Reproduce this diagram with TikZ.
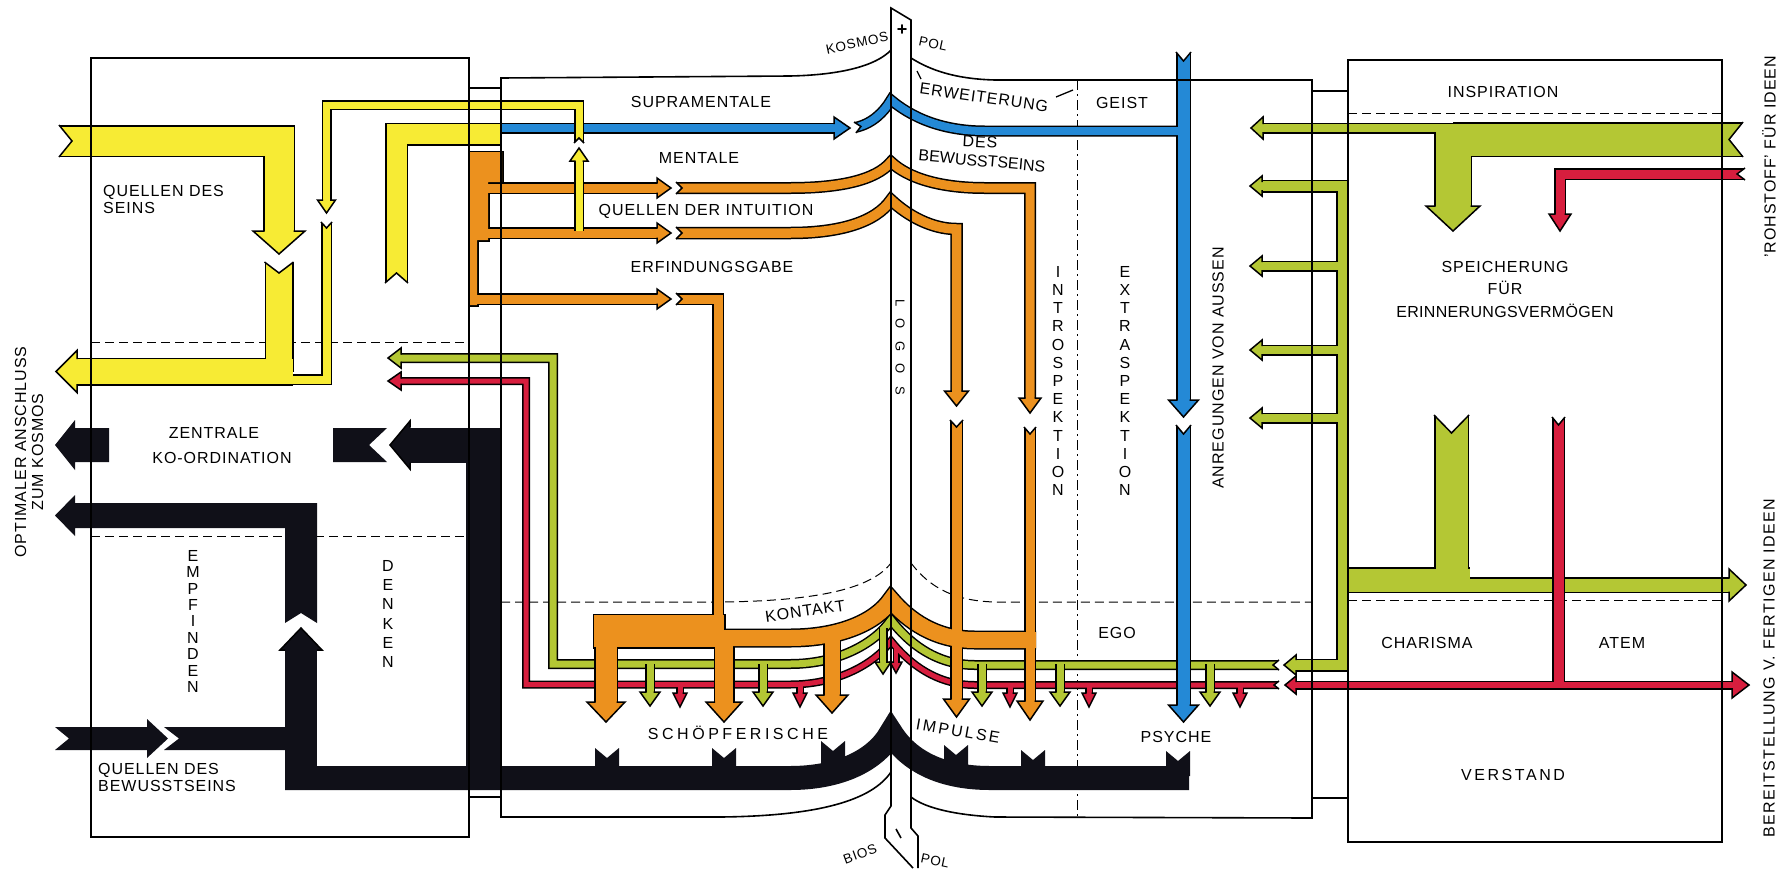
\documentclass[tikz,border=0pt]{standalone}
\usepackage{fontspec}
\setmainfont{Liberation Sans}[LetterSpace=6]

\definecolor{yel}{RGB}{247,235,52}
\definecolor{org}{RGB}{236,145,30}
\definecolor{blu}{RGB}{36,137,214}
\definecolor{grn}{RGB}{180,199,52}
\definecolor{rd}{RGB}{215,30,62}
\definecolor{ink}{RGB}{16,16,24}

% two passes per colour: black rim first, colour core after
\newcommand\rimmode{\tikzset{pipe/.style={draw=black,line width=##1+3pt,line cap=butt,line join=miter},
  blob/.style={draw=black,line width=3pt,line join=miter}}}
\newcommand\coremode[1]{\tikzset{pipe/.style={draw=#1,line width=##1,line cap=butt,line join=miter},
  blob/.style={fill=#1}}}
% notched tail: x, y, flow angle, half width, depth
\newcommand\notch[5]{\begin{scope}[shift={(#1,#2)},rotate=#3]
  \fill[white] (-1,-#4) -- (0,-#4) -- (#5,0) -- (0,#4) -- (-1,#4) -- cycle;
  \draw[line width=1.5pt,line join=miter] (0,-#4) -- (#5,0) -- (0,#4);
\end{scope}}
% arrow head: tip x, tip y, angle, half width, length, half pipe, colour
\newcommand\head[7]{\begin{scope}[shift={(#1,#2)},rotate=#3]
  \fill[#7] (0,0) -- (-#5,#4) -- (-#5,-#4) -- cycle;
  \draw[line width=1.5pt,line join=miter] (-#5,#6) -- (-#5,#4) -- (0,0) -- (-#5,-#4) -- (-#5,-#6);
\end{scope}}
\newcommand\track[1]{\addfontfeature{LetterSpace=#1}}

\newcommand\yellowparts{%
  \draw[pipe=29pt] (59,141) -- (279,141) -- (279,232);
  \draw[pipe=26pt] (279,262) -- (279,372);
  \draw[pipe=25pt] (293,371.5) -- (76,371.5);
  \draw[pipe=8pt] (326.5,222) -- (326.5,379.5) -- (293,379.5);
  \draw[pipe=20pt] (396.5,283) -- (396.5,134) -- (502,134);
}
\newcommand\yellowthin{%
  \draw[pipe=7pt] (579,231) -- (579,160);
  \draw[pipe=7pt] (579,143) -- (579,105) -- (326.5,105) -- (326.5,201);
}
\newcommand\blueparts{%
  \draw[pipe=8pt] (501,128) -- (835,128);
  \draw[pipe=8pt] (855,127.5) .. controls (872,124) and (884,112) .. (891,100)
    .. controls (910,116) and (940,131) .. (985,131) -- (1183.5,131);
  \draw[pipe=12pt] (1183.5,52) -- (1183.5,401);
  \draw[pipe=12pt] (1183.5,425) -- (1183.5,706);
}
\newcommand\orangeparts{%
  \path[blob] (469,152) -- (502,152) -- (502,182) -- (488,182) -- (488,240) -- (477,240) -- (477,305) -- (469,305) -- cycle;
  \draw[pipe=9pt] (485,188) -- (658,188);
  \draw[pipe=9pt] (484,233) -- (658,233);
  \draw[pipe=9pt] (473,299) -- (658,299);
  \draw[pipe=9pt] (676,188) -- (790,188) .. controls (840,188) and (876,180) .. (891,162)
    .. controls (908,178) and (940,188) .. (985,188) -- (1030,188) -- (1030,399);
  \draw[pipe=9.5pt] (676,233) -- (790,233) .. controls (840,233) and (876,222) .. (891,200)
    .. controls (908,216) and (932,229) .. (956.5,229) -- (956.5,392);
  \draw[pipe=9pt] (676,299) -- (718,299) -- (718,630);
  \path[blob] (594,615) rectangle (724,647);
  \draw[pipe=16pt] (718,638) -- (790,638) .. controls (840,638) and (876,622) .. (891,600)
    .. controls (908,620) and (935,640) .. (975,640) -- (1036,640);
  \draw[pipe=21pt] (606,640) -- (606,703);
  \draw[pipe=18pt] (724,640) -- (724,703);
  \draw[pipe=15pt] (832,628) -- (832,696);
  \draw[pipe=10pt] (956.5,420) -- (956.5,700);
  \draw[pipe=9pt] (1030,427) -- (1030,702);
}
\newcommand\greenparts{%
  \draw[pipe=7pt] (400,358) -- (553,358) -- (553,664) -- (790,664) .. controls (840,664) and (876,642) .. (891,620)
    .. controls (908,642) and (935,665) .. (975,665) -- (1279,665);
  \draw[pipe=10pt] (1295,665) -- (1342.5,665) -- (1342.5,186) -- (1261,186);
  \foreach \y in {266,350,418} \draw[pipe=8pt] (1342,\y) -- (1261,\y);
  \draw[pipe=23pt] (1342,580) -- (1470,580);
  \draw[pipe=13pt] (1452,585) -- (1730,585);
  \draw[pipe=32pt] (1451.5,415) -- (1451.5,580);
  \draw[pipe=32pt] (1743,139.5) -- (1453,139.5);
  \draw[pipe=8pt] (1453,128) -- (1262,128);
  \draw[pipe=35pt] (1453,128) -- (1453,207);
}
\newcommand\greentwigs{%
  \foreach \x in {650,763,982,1060,1210} \draw[pipe=7pt] (\x,664) -- (\x,693);
  \draw[pipe=6pt] (883,628) -- (883,663);
}
\newcommand\redparts{%
  \draw[pipe=5pt] (400,381) -- (526,381) -- (526,684.5) -- (790,684.5) .. controls (840,684.5) and (876,662) .. (891,641)
    .. controls (908,662) and (935,685) .. (975,685) -- (1279,685);
  \draw[pipe=6pt] (1296,685) -- (1733,685);
  \draw[pipe=10pt] (1558.5,417) -- (1558.5,685);
  \draw[pipe=9pt] (1745,174) -- (1560,174) -- (1560,215);
  \foreach \x in {680,800,1010,1089,1240} \draw[pipe=5pt] (\x,685) -- (\x,694);
  \draw[pipe=4pt] (896,646) -- (896,662);
}

\begin{document}
\begin{tikzpicture}[x=1pt, y=-1pt,
  wall/.style={line width=1.6pt, line join=miter},
  cutline/.style={line width=1pt, dash pattern=on 9pt off 5pt},
  lbl/.style={inner sep=0pt, font=\fontsize{16}{17}\selectfont},
  tab/.style={inner sep=0pt, font=\fontsize{13.5}{14}\selectfont},
  stack/.style={inner sep=0pt, anchor=north, align=center, font=\fontsize{16}{18.2}\selectfont}]

\useasboundingbox (0,0) rectangle (1787,876);
\fill[white] (0,0) rectangle (1787,876);

% dashed divisions
\draw[cutline] (91,342) -- (469,342);
\draw[cutline] (91,536) -- (469,536);
\draw[cutline] (1348,113) -- (1722,113);
\draw[cutline] (1348,600) -- (1722,600);
\draw[cutline] (501,602) -- (720,602) .. controls (820,601) and (872,588) .. (891,563);
\draw[cutline] (911,563) .. controls (930,588) and (955,601) .. (995,602) -- (1312,602);
\draw[line width=1pt, dash pattern=on 10pt off 4pt on 2pt off 4pt] (1077,80) -- (1077,818);

% yellow
\begin{scope}\rimmode\yellowparts\end{scope}
\begin{scope}\coremode{yel}\yellowparts\end{scope}
\notch{59}{141}{0}{16}{13}
\notch{279}{262}{-90}{14.5}{11}
\notch{326.5}{222}{-90}{5.5}{6}
\notch{396.5}{283}{90}{11.5}{10}
\head{279}{254}{-90}{26}{23}{14.5}{yel}
\head{56}{371.5}{180}{21}{21}{12.5}{yel}

% green
\begin{scope}\rimmode\greenparts\end{scope}
\begin{scope}\coremode{grn}\greenparts\end{scope}
\notch{1279}{665}{180}{5}{6}
\notch{1743}{139.5}{180}{17.5}{14}
\notch{1451.5}{415}{-90}{17.5}{18}
\head{388}{358}{180}{10}{13}{3.5}{grn}
\head{1284}{665}{180}{10}{12}{5}{grn}
\foreach \y in {186,266,350,418} \head{1250}{\y}{180}{10}{12}{4}{grn};
\head{1251}{128}{180}{11}{12}{4}{grn}
\head{1746}{585}{0}{16}{17}{6.5}{grn}
\head{1453}{231}{-90}{27}{25}{17.5}{grn}

% red
\begin{scope}\rimmode\redparts\end{scope}
\begin{scope}\coremode{rd}\redparts\end{scope}
\notch{1279}{685}{180}{4}{5}
\notch{1745}{174}{180}{6}{8}
\notch{1558.5}{417}{-90}{6.5}{8}
\head{388}{381}{180}{9}{13}{2.5}{rd}
\head{1285}{685}{180}{9}{11}{3}{rd}
\head{1749}{685}{0}{13}{17}{3}{rd}
\head{1560}{231}{-90}{11}{17}{4.5}{rd}
\foreach \x in {680,800,1010,1089,1240} \head{\x}{707}{-90}{7}{14}{2.5}{rd};
\head{896}{673}{-90}{6}{11}{2}{rd}

% green branches over red
\begin{scope}\rimmode\greentwigs\end{scope}
\begin{scope}\coremode{grn}\greentwigs\end{scope}
\foreach \x in {650,763,982,1060,1210} \head{\x}{706}{-90}{10}{14}{3.5}{grn};
\head{883}{674}{-90}{8}{12}{3}{grn}

% orange
\begin{scope}\rimmode\orangeparts\end{scope}
\begin{scope}\coremode{org}\orangeparts\end{scope}
\foreach \y in {188,233,299} \notch{676}{\y}{0}{6}{6};
\notch{956.5}{420}{-90}{6.5}{7}
\notch{1030}{427}{-90}{6}{7}
\foreach \y in {188,233,299} \head{671}{\y}{0}{10}{14}{4.5}{org};
\head{1030}{413}{-90}{11}{15}{4.5}{org}
\head{956.5}{406}{-90}{12}{15}{4.75}{org}
\head{606}{722}{-90}{19}{20}{10.5}{org}
\head{724}{722}{-90}{18}{20}{9}{org}
\head{832}{713}{-90}{16}{18}{7.5}{org}
\head{956.5}{717}{-90}{13}{18}{5}{org}
\head{1030}{720}{-90}{13}{19}{4.5}{org}

% blue
\begin{scope}\rimmode\blueparts\end{scope}
\begin{scope}\coremode{blu}\blueparts\end{scope}
\notch{855}{127.5}{10}{5.5}{6}
\notch{1183.5}{52}{-90}{7.5}{9}
\notch{1183.5}{425}{-90}{7.5}{9}
\head{850}{128}{0}{11}{16}{4}{blu}
\head{1183.5}{417}{-90}{15}{17}{6}{blu}
\head{1183.5}{722}{-90}{15}{17}{6}{blu}

% thin yellow over orange and blue
\begin{scope}\rimmode\yellowthin\end{scope}
\begin{scope}\coremode{yel}\yellowthin\end{scope}
\notch{579}{143}{90}{5}{5}
\head{579}{148}{90}{9}{13}{3.5}{yel}
\head{326.5}{213}{-90}{9}{13}{3.5}{yel}

% black
\draw[ink, line width=35pt, line join=miter] (483,790) -- (483,445) -- (409,445);
\head{390}{445}{180}{24}{20}{17.5}{ink}
\fill[ink] (333,428) -- (387,428) -- (369,445) -- (387,462) -- (333,462) -- cycle;
\fill[ink] (109,428) -- (109,462) -- (75,462) -- (75,470) -- (55,445) -- (75,420) -- (75,428) -- cycle;
\fill[ink] (75,503) -- (317,503) -- (317,623) -- (301,613) -- (285,623) -- (285,528) -- (75,528)
  -- (75,536) -- (55,515.5) -- (75,495) -- cycle;
\draw[ink, line width=32pt] (301,649) -- (301,790);
\head{301}{628}{90}{21}{22}{16}{ink}
\draw[ink, line width=24pt] (285,778) -- (790,778) .. controls (840,778) and (876,760) .. (891,733)
  .. controls (908,760) and (940,778) .. (990,778) -- (1189,778);
\fill[ink] (55,727) -- (147,727) -- (147,719) -- (168,738.5) -- (147,758) -- (147,750) -- (55,750) -- (69,738.5) -- cycle;
\fill[ink] (164,727) -- (285,727) -- (285,750) -- (164,750) -- (179,738.5) -- cycle;
\foreach \x/\t in {607/748,724/748,833/741,956/745,1033/750,1178/751}
  \fill[ink] (\x-12,\t+25) -- (\x-12,\t) -- (\x,\t+10) -- (\x+12,\t) -- (\x+12,\t+25) -- cycle;

% frames
\draw[wall] (91,58) rectangle (469,837);
\draw[wall] (469,88) -- (501,88) (469,797) -- (501,797);
\draw[wall] (891,50) .. controls (876,66) and (840,75) .. (790,76) -- (501,78) -- (501,817) -- (720,817)
  .. controls (820,816) and (872,800) .. (891,772);
\draw[wall] (911,58) .. controls (930,70) and (955,79) .. (995,80) -- (1312,80) -- (1312,818) -- (995,817)
  .. controls (955,815) and (925,808) .. (911,797);
\draw[wall] (1312,91) -- (1348,91) (1312,798) -- (1348,798);
\draw[wall] (1348,60) rectangle (1722,842);
\draw[wall] (913,868) -- (885,838) -- (885,815) -- (891,806) -- (891,8) -- (911,20) -- (911,828) -- (918,836) -- (918,868);
\draw[line width=1.3pt] (917,71) -- (921,79);
\draw[line width=1.3pt] (1056,97) -- (1073,90);
\draw[line width=1.6pt] (896,829) -- (901,838);

% labels
\node[lbl, anchor=north west, align=left] (seins) at (103,185) {QUELLEN DES\\SEINS};
\node[lbl] (zentrale) at (214,433) {ZENTRALE};
\node[lbl] (koord) at (222,458) {KO-ORDINATION};
\node[stack, font=\fontsize{16}{16.4}\selectfont] (empfinden) at (193,550) {E\\M\\P\\F\\I\\N\\D\\E\\N};
\node[stack, font=\fontsize{16}{19.3}\selectfont] (denken) at (388,560) {D\\E\\N\\K\\E\\N};
\node[lbl, anchor=north west, align=left] (bewusst) at (98,763) {QUELLEN DES\\BEWUSSTSEINS};
\node[lbl, rotate=90, align=center] (anschluss) at (29,452) {OPTIMALER ANSCHLUSS\\ZUM KOSMOS};
\node[lbl] (supra) at (701,102) {SUPRAMENTALE};
\node[lbl] (mentale) at (699,158) {MENTALE};
\node[lbl] (intuition) at (706,211) {QUELLEN DER INTUITION};
\node[lbl] (erfindung) at (712,267) {ERFINDUNGSGABE};
\node[lbl, rotate=8] (kontakt) at (805,611) {KONTAKT};
\node[lbl, font=\fontsize{16}{17}\selectfont\track{22}] (schoepf) at (738,733) {SCHÖPFERISCHE};
\node[lbl, rotate=-10, font=\fontsize{16}{17}\selectfont\track{15}] (impulse) at (958,731) {IMPULSE};
\node[tab, rotate=12] (kosmos) at (857,43) {KOSMOS};
\node[tab, rotate=-12] (polplus) at (933,44) {POL};
\node[tab, rotate=20] (bios) at (860,854) {BIOS};
\node[tab, rotate=-12] (polminus) at (935,861) {POL};
\node[inner sep=0pt, font=\fontsize{18}{18}\selectfont\bfseries] (plus) at (902,30) {+};
\node[lbl, rotate=-8] (erweit) at (984,97.5) {ERWEITERUNG};
\node[lbl, rotate=-3] (des) at (980,142) {DES};
\node[lbl, rotate=-5, font=\fontsize{16}{17}\selectfont\track{0}] (seinsr) at (982,161) {BEWUSSTSEINS};
\node[lbl] (geist) at (1122,103) {GEIST};
\node[stack] (intro) at (1058,266) {I\\N\\T\\R\\O\\S\\P\\E\\K\\T\\I\\O\\N};
\node[stack] (extra) at (1125,266) {E\\X\\T\\R\\A\\S\\P\\E\\K\\T\\I\\O\\N};
\node[tab, rotate=-90, font=\fontsize{13}{13}\selectfont\track{95}] (logos) at (900,347) {LOGOS};
\node[lbl, rotate=90] (anregung) at (1218,368) {ANREGUNGEN VON AUSSEN};
\node[lbl] (ego) at (1117,633) {EGO};
\node[lbl] (psyche) at (1176,737) {PSYCHE};
\node[lbl] (inspiration) at (1503,92) {INSPIRATION};
\node[lbl, anchor=north, align=center, font=\fontsize{16}{22.5}\selectfont] (speicher) at (1505,261)
  {SPEICHERUNG\\FÜR\\{\track{2}ERINNERUNGSVERMÖGEN}};
\node[lbl] (charisma) at (1427,643) {CHARISMA};
\node[lbl] (atem) at (1622,643) {ATEM};
\node[lbl, font=\fontsize{16}{17}\selectfont\track{16}] (verstand) at (1513,775) {VERSTAND};
\node[lbl, rotate=90] (rohstoff) at (1769,157) {’ROHSTOFF’ FÜR IDEEN};
\node[lbl, rotate=90, font=\fontsize{16}{17}\selectfont\track{9}] (bereit) at (1769,668) {BEREITSTELLUNG V. FERTIGEN IDEEN};

\end{tikzpicture}
\end{document}
